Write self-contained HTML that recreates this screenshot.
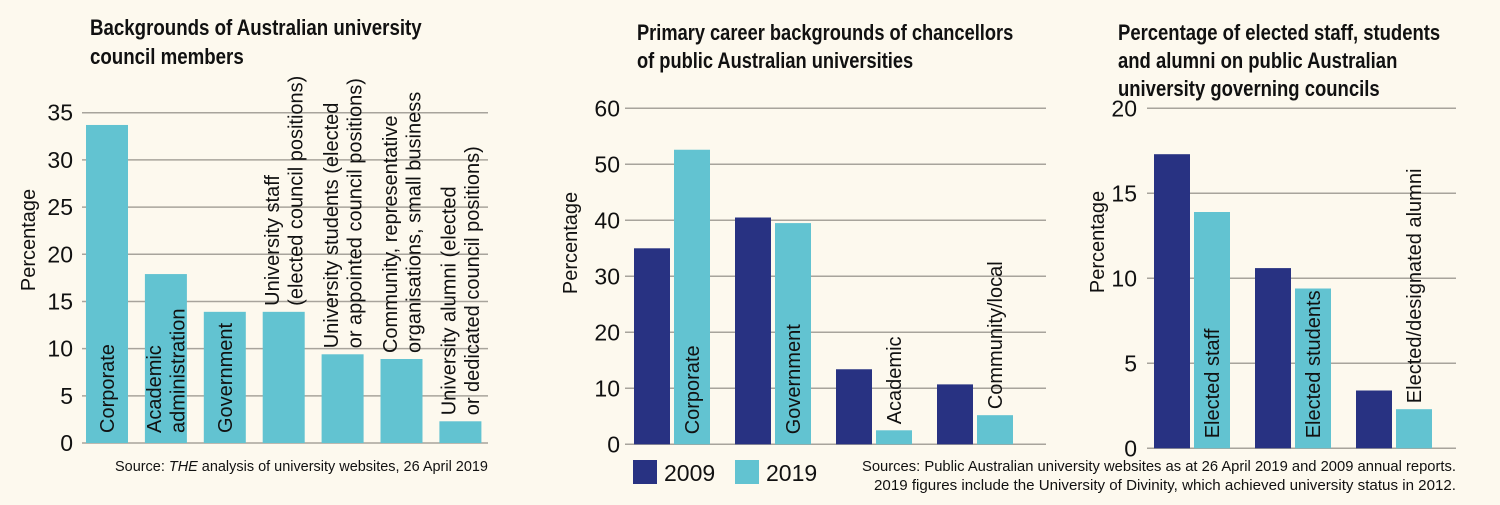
<!DOCTYPE html>
<html><head><meta charset="utf-8">
<style>
html,body{margin:0;padding:0;background:#fdf9ee;}
svg{display:block;font-family:"Liberation Sans Narrow","Liberation Sans",sans-serif;}
.title{font-weight:bold;font-size:22px;fill:#111;}
.tick{font-size:23px;fill:#111;}
.axl{font-size:20px;fill:#111;}
.lab{font-size:20px;fill:#111;}
.src{font-size:15px;fill:#111;}
</style></head>
<body>
<svg id="s" width="1500" height="505" viewBox="0 0 1500 505" xmlns="http://www.w3.org/2000/svg">
<rect width="1500" height="505" fill="#fdf9ee"/>
<g transform="translate(90,0) scale(0.85,1)"><text class="title" x="0" y="35">Backgrounds of Australian university</text><text class="title" x="0" y="64">council members</text></g>
<g transform="translate(637,0) scale(0.83,1)"><text class="title" x="0" y="40">Primary career backgrounds of chancellors</text><text class="title" x="0" y="68">of public Australian universities</text></g>
<g transform="translate(1118,0) scale(0.84,1)"><text class="title" x="0" y="40">Percentage of elected staff, students</text><text class="title" x="0" y="68">and alumni on public Australian</text><text class="title" x="0" y="96">university governing councils</text></g>
<text class="src" x="488" y="471" text-anchor="end" textLength="373" lengthAdjust="spacingAndGlyphs">Source: <tspan font-style="italic">THE</tspan> analysis of university websites, 26 April 2019</text>
<g><text class="src" x="1456" y="471" text-anchor="end" textLength="594" lengthAdjust="spacingAndGlyphs">Sources: Public Australian university websites as at 26 April 2019 and 2009 annual reports.</text><text class="src" x="1456" y="490" text-anchor="end" textLength="582" lengthAdjust="spacingAndGlyphs">2019 figures include the University of Divinity, which achieved university status in 2012.</text></g>
<g>
<rect x="633" y="460" width="24" height="24" fill="#283282"/>
<text class="tick" x="664" y="481">2009</text>
<rect x="735" y="460" width="24" height="24" fill="#62c3d1"/>
<text class="tick" x="766" y="481">2019</text>
</g>
</svg>
<script>
// Chart 1 data
const c1Categories = [["Corporate"],["Academic","administration"],["Government"],["University staff","(elected council positions)"],["University students (elected","or appointed council positions)"],["Community, representative","organisations, small business"],["University alumni (elected","or dedicated council positions)"]];
const c1Values = [33.7, 17.9, 13.9, 13.9, 9.4, 8.9, 2.3];
const c1Ticks = [0,5,10,15,20,25,30,35];
// Chart 2 data
const c2Categories = ["Corporate","Government","Academic","Community/local"];
const c2Values2009 = [35, 40.5, 13.4, 10.7];
const c2Values2019 = [52.6, 39.5, 2.5, 5.2];
const c2Ticks = [0,10,20,30,40,50,60];
// Chart 3 data
const c3Categories = ["Elected staff","Elected students","Elected/designated alumni"];
const c3Values2009 = [17.3, 10.6, 3.4];
const c3Values2019 = [13.9, 9.4, 2.3];
const c3Ticks = [0,5,10,15,20];

const NS="http://www.w3.org/2000/svg";
const svg=document.getElementById('s');
function mk(tag,attrs,parent){const e=document.createElementNS(NS,tag);for(const k in attrs)e.setAttribute(k,attrs[k]);(parent||svg).appendChild(e);return e;}
const DARK="#283282", LIGHT="#62c3d1";

function axes(g,cfg,ticks){
  const y=v=>cfg.y0-(v-cfg.vmin)/(cfg.vmax-cfg.vmin)*(cfg.y0-cfg.y1);
  ticks.forEach(t=>{
    const ln=mk('line',{x1:cfg.xl,x2:cfg.xr,y1:y(t),y2:y(t),stroke:'#a8a49c','stroke-width':1.5},g);
    
    
    const tx=mk('text',{x:cfg.tx,y:y(t)+8,'text-anchor':'end',class:'tick'},g);
    tx.textContent=t;
    
    
  });
  const yl=mk('text',{class:'axl','text-anchor':'middle',transform:`translate(${cfg.ax},${cfg.ay}) rotate(-90)`},g);
  yl.textContent='Percentage';
  
  
  return y;
}
function vlabel(g,lines,cx,barTop,baseY){
  const n=lines.length;
  const els=lines.map((s,i)=>{
    const x=cx+(i-(n-1)/2)*23.5+7;
    const t=mk('text',{class:'lab'},g);
    t.textContent=s;
    
    
    return [t,x];
  });
  const maxLen=Math.max(...els.map(([t])=>t.getComputedTextLength()));
  const start = (maxLen+14 < baseY-barTop+10) ? baseY-10 : barTop-6;
  els.forEach(([t,x])=>t.setAttribute('transform',`translate(${x},${start}) rotate(-90)`));
}

(function(){
  const g=mk('g',{});
  
  
  const cfg={xl:82,xr:488,y0:443,y1:112.7,vmin:0,vmax:35,tx:73,ax:35,ay:240};
  const y=axes(g,cfg,c1Ticks);
  const bw=42, x0=86, pitch=58.9;
  c1Values.forEach((v,i)=>{
    const x=x0+i*pitch;
    const r=mk('rect',{x:x,y:y(v),width:bw,height:y(0)-y(v),fill:LIGHT},g);
    
    
    vlabel(g,c1Categories[i],x+bw/2,y(v),y(0));
  });
})();

function grouped(name,cats,d1,d2,ticks,cfg,x0,pitch){
  const g=mk('g',{});
  
  
  const y=axes(g,cfg,ticks);
  const bw=36;
  cats.forEach((c,i)=>{
    const gx=x0+i*pitch;
    const r1=mk('rect',{x:gx,y:y(d1[i]),width:bw,height:y(0)-y(d1[i]),fill:DARK},g);
    
    
    const r2=mk('rect',{x:gx+40,y:y(d2[i]),width:bw,height:y(0)-y(d2[i]),fill:LIGHT},g);
    
    
    vlabel(g,[c],gx+40+bw/2,y(d2[i]),y(0));
  });
}
grouped('chart2',c2Categories,c2Values2009,c2Values2019,c2Ticks,
  {xl:625,xr:1046,y0:444.3,y1:108.3,vmin:0,vmax:60,tx:620,ax:577,ay:243},634,101);
grouped('chart3',c3Categories,c3Values2009,c3Values2019,c3Ticks,
  {xl:1147,xr:1456,y0:448.3,y1:108.3,vmin:0,vmax:20,tx:1137,ax:1104,ay:242},1154,101);
</script>
</body></html>
